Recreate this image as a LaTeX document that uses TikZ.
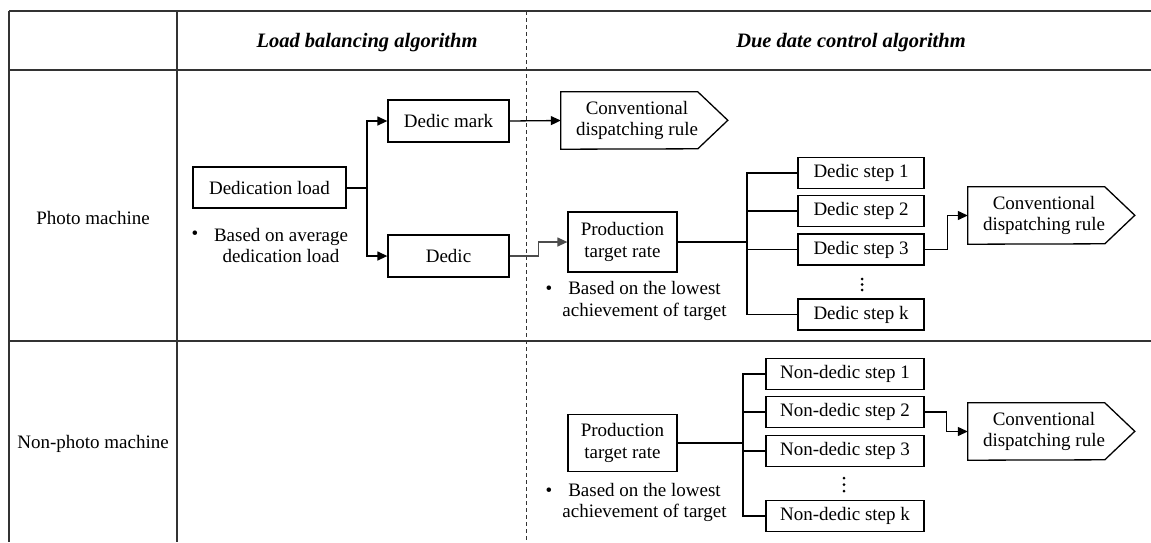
\documentclass[tikz,border=0pt]{standalone}
\usepackage{fontspec}
\setmainfont{Liberation Serif}
\usetikzlibrary{arrows.meta,calc}
\begin{document}
\begin{tikzpicture}[x=1pt,y=-1pt,
  every node/.style={font=\fontsize{19}{21.5}\selectfont, inner sep=0pt},
  box/.style={draw, line width=1.3pt, align=center},
  stepbox/.style={box, minimum height=31},
  pent/.style={align=center, minimum width=152, minimum height=57},
  pentline/.style={draw, line width=1.3pt},
  conn/.style={draw, line width=1.3pt},
  trunk/.style={draw, line width=2pt},
  arr/.style={-{Triangle[length=10pt,width=9pt]}},
  grid/.style={draw=black!80, line width=1.6pt},
  head/.style={font=\fontsize{20.5}{23}\selectfont\bfseries\itshape},
  bul/.style={font=\fontsize{19}{21.5}\selectfont},
  txt/.style={align=center}
]
\useasboundingbox (0,0) rectangle (1151,542);

% table
\draw[grid] (9,11) -- (1151,11);
\draw[grid] (9,70) -- (1151,70);
\draw[grid] (9,341) -- (1151,341);
\draw[grid] (9,11) -- (9,542);
\draw[grid] (177,11) -- (177,542);
\draw[black!80, line width=1pt, dash pattern=on 4pt off 3pt] (526,11) -- (526,542);

% headers
\node[head] (h1) at (367,43) {Load balancing algorithm};
\node[head] (h2) at (851,43) {Due date control algorithm};
\node (r1) at (93,218) {Photo machine};
\node (r2) at (93,444) {Non-photo machine};

% ---- photo row, load balancing
\node[box, minimum width=153, minimum height=41] (dl) at (269.5,187.5) {Dedication load};
\node[bul] (b1) at (195,235) {•};
\node[txt] (t1) at (281,245.5) {Based on average\\dedication load};
\node[box, minimum width=121, minimum height=42] (dm) at (448.5,121) {Dedic mark};
\node[box, minimum width=121, minimum height=42] (dd) at (448.5,256) {Dedic};
\coordinate (j1) at (367,187.5);
\draw[trunk] (dl.east) -- (j1);
\draw[conn, arr] (j1) |- (dm.west);
\draw[conn, arr] (j1) |- (dd.west);

% pentagon 1
\node[pent] (c1) at (637,120.5) {Conventional\\dispatching rule};
\draw[pentline] (c1.north west) -- ++(137,0) -- ++(30,28.5) -- ++(-30,28.5) -- (c1.south west) -- cycle;
\draw[conn, arr] (dm.east) -- (c1.west);

% photo row, due date
\node[box, minimum width=109, minimum height=60] (p1) at (622.5,242) {Production\\target rate};
\draw[conn, arr, draw=black!70] (dd.east) -- ++(29,0) |- (p1.west);
\node[bul] (b2) at (549,290) {•};
\node[txt] (t2) at (644.5,301) {Based on the lowest\\achievement of target};

\coordinate (bus1) at (747,242);
\draw[trunk] (p1.east) -- (bus1);
\node[stepbox, minimum width=126] (s1) at (861,173) {Dedic step 1};
\node[stepbox, minimum width=126] (s2) at (861,211) {Dedic step 2};
\node[stepbox, minimum width=126] (s3) at (861,249.5) {Dedic step 3};
\node[stepbox, minimum width=126] (sk) at (861,314.5) {Dedic step k};
\draw[conn] (s1.west) -| (bus1) |- (sk.west);
\draw[conn] (s2.west) -- (s2.west -| bus1);
\draw[conn] (s3.west) -- (s3.west -| bus1);
\fill (862,279) circle (1.5) (862,284.5) circle (1.5) (862,290) circle (1.5);

\node[pent] (c2) at (1044,215.5) {Conventional\\dispatching rule};
\draw[pentline] (c2.north west) -- ++(137,0) -- ++(30,28.5) -- ++(-30,28.5) -- (c2.south west) -- cycle;
\draw[conn, arr] (s3.east) -- ++(23,0) |- (c2.west);

% ---- non-photo row
\node[box, minimum width=109, minimum height=57] (p2) at (622.5,443) {Production\\target rate};
\node[bul] (b3) at (549,492) {•};
\node[txt] (t3) at (644.5,502.5) {Based on the lowest\\achievement of target};

\coordinate (bus2) at (743,443);
\draw[trunk] (p2.east) -- (bus2);
\node[stepbox, minimum width=158] (n1) at (845,374) {Non-dedic step 1};
\node[stepbox, minimum width=158] (n2) at (845,412) {Non-dedic step 2};
\node[stepbox, minimum width=158] (n3) at (845,451) {Non-dedic step 3};
\node[stepbox, minimum width=158] (nk) at (845,516) {Non-dedic step k};
\draw[conn] (n1.west) -| (bus2) |- (nk.west);
\draw[conn] (n2.west) -- (n2.west -| bus2);
\draw[conn] (n3.west) -- (n3.west -| bus2);
\fill (844,478) circle (1.5) (844,484.5) circle (1.5) (844,491) circle (1.5);

\node[pent] (c3) at (1044,431.5) {Conventional\\dispatching rule};
\draw[pentline] (c3.north west) -- ++(137,0) -- ++(30,28.5) -- ++(-30,28.5) -- (c3.south west) -- cycle;
\draw[conn, arr] (n2.east) -- ++(22,0) |- (c3.west);
\end{tikzpicture}
\end{document}
